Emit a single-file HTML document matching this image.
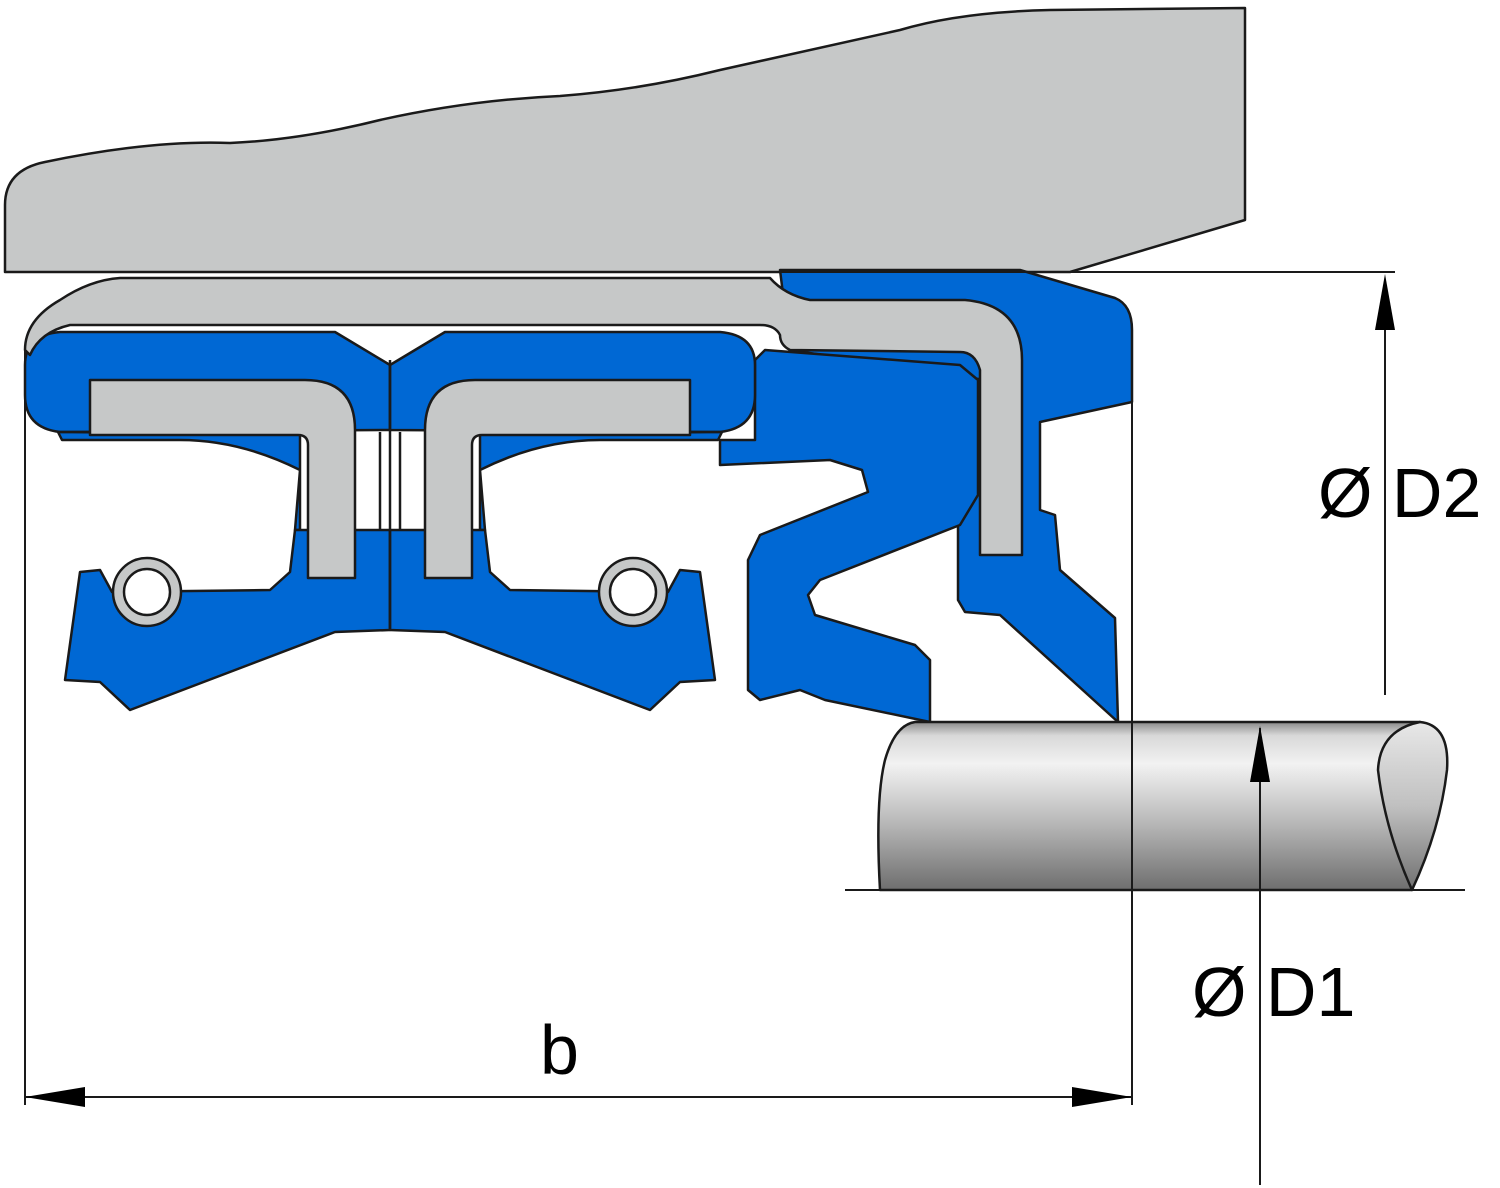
<!DOCTYPE html>
<html><head><meta charset="utf-8"><style>html,body{margin:0;padding:0;background:#fff}svg{display:block}</style></head>
<body>
<svg width="1500" height="1188" viewBox="0 0 1500 1188" xmlns="http://www.w3.org/2000/svg">
<defs>
<linearGradient id="sh" x1="0" y1="0" x2="0" y2="1">
<stop offset="0" stop-color="#8a8a8a"/><stop offset="0.08" stop-color="#d8d8d8"/><stop offset="0.25" stop-color="#f2f2f2"/><stop offset="0.6" stop-color="#b8b8b8"/><stop offset="1" stop-color="#6e6e6e"/>
</linearGradient>
<linearGradient id="se" x1="0" y1="0" x2="0" y2="1">
<stop offset="0" stop-color="#e8e8e8"/><stop offset="0.5" stop-color="#c0c0c0"/><stop offset="1" stop-color="#707070"/>
</linearGradient>
</defs>
<g stroke="#1a1a1a" stroke-width="2.5" stroke-linejoin="round">
<path d="M5,272 L5,205 Q5,170 45,162 Q150,140 230,143 Q300,140 380,120 Q470,100 560,96 Q640,90 720,70 Q820,48 900,30 Q960,12 1050,10 L1245,8 L1245,220 L1070,272 Z" fill="#c6c8c8"/>
<path d="M780,270 L1020,270 L1115,298 Q1132,305 1132,330 L1132,402 L1040,422 L1040,510 L1055,515 L1060,570 L1115,618 L1118,722 L1000,615 L965,612 L958,600 L958,505 L972,490 L985,490 L985,380 L790,350 Z" fill="#0068d4"/>
<path d="M720,440 L720,465 L830,460 L862,470 L868,492 L760,535 L748,560 L748,690 L760,700 L800,690 L825,700 L930,722 L930,660 L915,645 L815,615 L808,595 L820,580 L960,525 L978,495 L978,380 L960,365 L765,350 L755,360 L755,440 Z" fill="#0068d4"/>
<g id="half">
<path d="M25,395 L25,365 Q25,335 60,332 L335,332 L390,365 L390,430 L60,432 Q25,428 25,395 Z" fill="#0068d4"/>
<path d="M58,432 L300,434 L300,530 L295,530 L300,470 Q240,440 180,440 L62,440 Z" fill="#0068d4"/>
<path d="M80,572 L100,570 L112,592 L270,590 L290,572 L295,530 L390,530 L390,630 L335,632 L130,710 L100,682 L65,680 Z" fill="#0068d4"/>
<path d="M90,380 L305,380 Q355,380 355,430 L355,578 L308,578 L308,445 Q308,435 298,435 L90,435 Z" fill="#c6c8c8"/>
<circle cx="147" cy="592" r="34" fill="#c6c8c8"/>
<circle cx="147" cy="592" r="23" fill="#fff"/>
<line x1="380" y1="432" x2="380" y2="530"/>
</g>
<use href="#half" transform="translate(780,0) scale(-1,1)"/>
<line x1="390" y1="360" x2="390" y2="630"/>
<path d="M25,350 Q25,320 60,300 Q90,280 120,278 L770,278 Q785,295 810,300 L965,300 Q1022,305 1022,360 L1022,555 L980,555 L980,370 Q975,352 960,352 L790,350 Q780,345 780,335 Q775,325 760,325 L70,325 Q40,332 30,355 Z" fill="#c6c8c8"/>
<path d="M915,722 L1420,722 L1412,890 L880,890 Q875,800 885,760 Q895,725 915,722 Z" fill="url(#sh)"/>
<path d="M1420,722 Q1450,725 1447,770 Q1440,830 1412,890 Q1385,830 1378,770 Q1380,730 1420,722 Z" fill="url(#se)"/>
</g>
<g stroke="#1a1a1a" stroke-width="2" fill="none">
<line x1="5" y1="272" x2="1395" y2="272"/>
<line x1="845" y1="890" x2="1465" y2="890"/>
<line x1="25" y1="345" x2="25" y2="1105"/>
<line x1="1132" y1="330" x2="1132" y2="1105"/>
<line x1="25" y1="1097" x2="1132" y2="1097"/>
<line x1="1385" y1="280" x2="1385" y2="695"/>
<line x1="1260" y1="728" x2="1260" y2="1185"/>
</g>
<g fill="#000">
<polygon points="25,1097 85,1087 85,1107"/>
<polygon points="1132,1097 1072,1087 1072,1107"/>
<polygon points="1385,274 1375,330 1395,330"/>
<polygon points="1260,726 1250,782 1270,782"/>
</g>
<g font-family="Liberation Sans, sans-serif" font-size="70" fill="#000">
<text x="540" y="1074">b</text>
<text x="1318" y="517">Ø D2</text>
<text x="1192" y="1016">Ø D1</text>
</g>
</svg>
</body></html>
